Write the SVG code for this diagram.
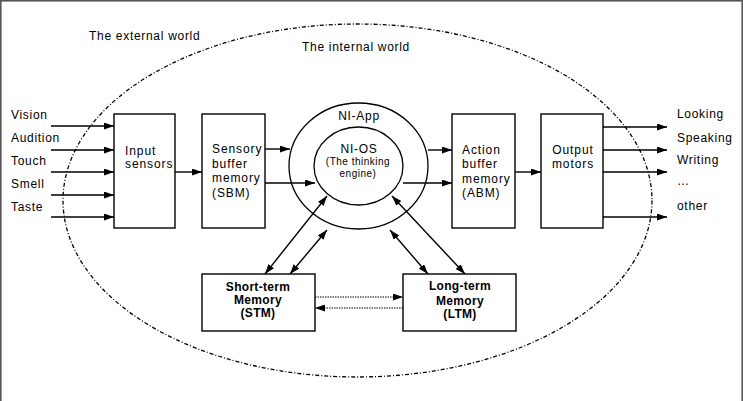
<svg xmlns="http://www.w3.org/2000/svg" width="743" height="401" viewBox="0 0 743 401">
<defs>
<marker id="ah" viewBox="0 0 10 7" refX="10" refY="3.5" markerWidth="10" markerHeight="7" markerUnits="userSpaceOnUse" orient="auto-start-reverse"><path d="M0,0 L10,3.5 L0,7 z" fill="#000"/></marker>
</defs>
<style>
text{font-family:"Liberation Sans",Arial,sans-serif;font-size:12px;fill:#000;letter-spacing:0.7px}
.bx{letter-spacing:0.9px}
.box{fill:#fff;stroke:#000;stroke-width:1.4}
.ln{stroke:#000;stroke-width:1.4;fill:none}
.dot{stroke:#000;stroke-width:1;fill:none;stroke-dasharray:1.5 1}
.c{text-anchor:middle}
.s{font-size:10px;letter-spacing:0.5px}
.b{font-weight:bold;letter-spacing:0.3px}
</style>
<rect x="0" y="0" width="743" height="401" fill="#fff"/>
<rect x="0.8" y="0.8" width="741.4" height="420" fill="none" stroke="#555" stroke-width="1.6"/>
<ellipse cx="357.5" cy="200.5" rx="294.5" ry="176.5" fill="none" stroke="#000" stroke-width="1.3" stroke-dasharray="4 2 1 2"/>
<text x="89" y="40">The external world</text>
<text x="302" y="51">The internal world</text>
<g id="connectors">
<line class="ln" x1="51" y1="126" x2="114" y2="126" marker-end="url(#ah)"/>
<line class="ln" x1="51" y1="150" x2="114" y2="150" marker-end="url(#ah)"/>
<line class="ln" x1="51" y1="172" x2="114" y2="172" marker-end="url(#ah)"/>
<line class="ln" x1="51" y1="195" x2="114" y2="195" marker-end="url(#ah)"/>
<line class="ln" x1="51" y1="217" x2="114" y2="217" marker-end="url(#ah)"/>
<line class="ln" x1="175" y1="172" x2="202" y2="172" marker-end="url(#ah)"/>
<line class="ln" x1="265" y1="149" x2="290" y2="149" marker-end="url(#ah)"/>
<line class="ln" x1="265" y1="183" x2="315" y2="183" marker-end="url(#ah)"/>
<line class="ln" x1="428" y1="150" x2="452" y2="150" marker-end="url(#ah)"/>
<line class="ln" x1="403" y1="183" x2="452" y2="183" marker-end="url(#ah)"/>
<line class="ln" x1="515" y1="172" x2="541" y2="172" marker-end="url(#ah)"/>
<line class="ln" x1="603" y1="127" x2="667" y2="127" marker-end="url(#ah)"/>
<line class="ln" x1="603" y1="150" x2="667" y2="150" marker-end="url(#ah)"/>
<line class="ln" x1="603" y1="172" x2="667" y2="172" marker-end="url(#ah)"/>
<line class="ln" x1="603" y1="217" x2="667" y2="217" marker-end="url(#ah)"/>
<line class="ln" x1="265" y1="274" x2="327" y2="196" marker-start="url(#ah)" marker-end="url(#ah)"/>
<line class="ln" x1="290" y1="274" x2="327" y2="230" marker-start="url(#ah)" marker-end="url(#ah)"/>
<line class="ln" x1="428" y1="274" x2="390" y2="230" marker-start="url(#ah)" marker-end="url(#ah)"/>
<line class="ln" x1="465" y1="274" x2="392" y2="196" marker-start="url(#ah)" marker-end="url(#ah)"/>
<line class="dot" x1="315" y1="297" x2="403" y2="297" marker-end="url(#ah)"/>
<line class="dot" x1="403" y1="308" x2="315" y2="308" marker-end="url(#ah)"/>
</g>
<g id="inputs-labels">
<text x="11" y="119">Vision</text>
<text x="11" y="142">Audition</text>
<text x="11" y="165">Touch</text>
<text x="11" y="188">Smell</text>
<text x="11" y="211">Taste</text>
</g>
<g id="input-sensors">
<rect class="box" x="114" y="114" width="61" height="114"/>
<text class="bx" x="125" y="155">Input</text>
<text class="bx" x="125" y="168">sensors</text>
</g>
<g id="sbm">
<rect class="box" x="202" y="114" width="63" height="114"/>
<text class="bx" x="212" y="153">Sensory</text>
<text class="bx" x="212" y="168">buffer</text>
<text class="bx" x="212" y="182">memory</text>
<text class="bx" x="212" y="197">(SBM)</text>
</g>
<g id="ni-app">
<ellipse cx="358.5" cy="166" rx="69.5" ry="63" fill="none" stroke="#000" stroke-width="1.3"/>
<text class="c" x="359" y="120">NI-App</text>
</g>
<g id="ni-os">
<ellipse cx="358.5" cy="166" rx="44.5" ry="39" fill="none" stroke="#000" stroke-width="1.3"/>
<text class="c" x="359" y="153">NI-OS</text>
<text class="c s" x="358" y="165">(The thinking</text>
<text class="c s" x="358" y="177">engine)</text>
</g>
<g id="abm">
<rect class="box" x="452" y="114" width="63" height="114"/>
<text class="bx" x="462" y="154">Action</text>
<text class="bx" x="462" y="168">buffer</text>
<text class="bx" x="462" y="183">memory</text>
<text class="bx" x="462" y="197">(ABM)</text>
</g>
<g id="output-motors">
<rect class="box" x="541" y="114" width="62" height="114"/>
<text class="c bx" x="573" y="154">Output</text>
<text class="c bx" x="573" y="168">motors</text>
</g>
<g id="outputs-labels">
<text x="677" y="118">Looking</text>
<text x="677" y="142">Speaking</text>
<text x="677" y="164">Writing</text>
<text x="677" y="185">…</text>
<text x="677" y="210">other</text>
</g>
<g id="stm">
<rect class="box" x="202" y="274" width="113" height="57"/>
<text class="c b" x="258" y="291">Short-term</text>
<text class="c b" x="258" y="304">Memory</text>
<text class="c b" x="258" y="317">(STM)</text>
</g>
<g id="ltm">
<rect class="box" x="403" y="274" width="113" height="57"/>
<text class="c b" x="460" y="290">Long-term</text>
<text class="c b" x="460" y="305">Memory</text>
<text class="c b" x="460" y="318">(LTM)</text>
</g>
</svg>
